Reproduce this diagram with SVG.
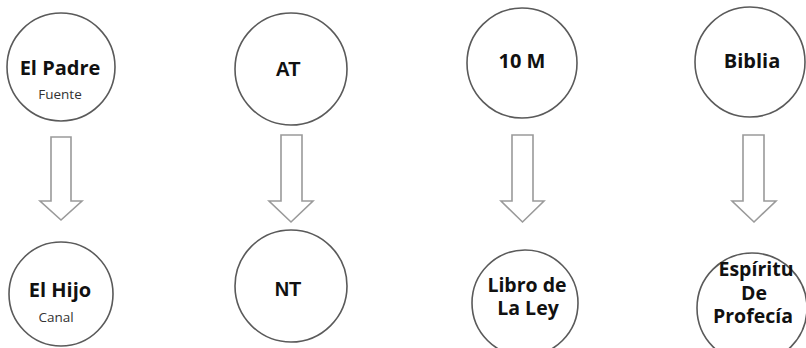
<svg xmlns="http://www.w3.org/2000/svg" width="806" height="348" viewBox="0 0 806 348">
<style>
.c{fill:#fff;stroke:#5a5a5a;stroke-width:1.6}
.a{fill:#fff;stroke:#9a9a9a;stroke-width:1.6;stroke-linejoin:miter}
.t{font-family:"Open Sans","Liberation Sans",sans-serif;font-weight:bold;font-size:20px;fill:#111;text-anchor:middle}
.m{font-size:19.5px}
.ta{font-family:"Liberation Sans",Arial,sans-serif;font-weight:bold;font-size:20px;fill:#111;text-anchor:middle}
.s{font-family:"Open Sans","Liberation Sans",sans-serif;font-size:13.5px;fill:#333;text-anchor:middle}
</style>
<rect width="806" height="348" fill="#fff"/>
<g id="connectors">
<path class="a" d="M51,137 H71 V201 H82 L61,220 L40,201 H51 Z"/>
<path class="a" d="M281,135 H302 V201 H313 L291,222 L269,201 H281 Z"/>
<path class="a" d="M512,135 H533 V201 H544 L522.5,222 L501,201 H512 Z"/>
<path class="a" d="M743,135 H764 V201 H776 L754,222 L732,201 H743 Z"/>
</g>
<g id="padre"><circle class="c" cx="61" cy="67" r="54"/><text class="t" x="60" y="75">El Padre</text><text class="s" x="60" y="99">Fuente</text></g>
<g id="at"><circle class="c" cx="291" cy="69" r="56"/><text class="ta" x="288" y="76">AT</text></g>
<g id="diezm"><circle class="c" cx="522" cy="63" r="55"/><text class="t" x="522" y="68">10 M</text></g>
<g id="biblia"><circle class="c" cx="750" cy="62" r="55"/><text class="t" x="752" y="68">Biblia</text></g>
<g id="hijo"><circle class="c" cx="61" cy="294" r="52"/><text class="t" x="60" y="297">El Hijo</text><text class="s" x="56" y="322">Canal</text></g>
<g id="nt"><circle class="c" cx="291" cy="286" r="56"/><text class="ta" x="288" y="296">NT</text></g>
<g id="libro"><circle class="c" cx="525" cy="303" r="53"/><text class="t m" x="527" y="292">Libro de</text><text class="t m" x="528" y="315">La Ley</text></g>
<g id="espiritu"><circle class="c" cx="752" cy="308" r="55"/><text class="t m" x="756" y="276">Espíritu</text><text class="t m" x="754" y="300">De</text><text class="t m" x="753" y="323">Profecía</text></g>
</svg>
